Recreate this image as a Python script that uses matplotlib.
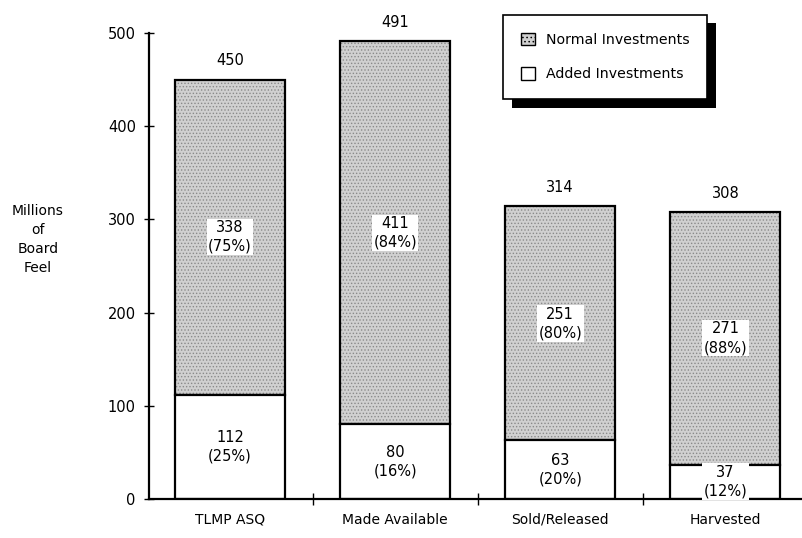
import numpy as np
import matplotlib.pyplot as plt

categories = ['TLMP ASQ', 'Made Available', 'Sold/Released', 'Harvested']
added = [112, 80, 63, 37]
normal = [338, 411, 251, 271]
totals = [450, 491, 314, 308]
added_pct = ['25%', '16%', '20%', '12%']
normal_pct = ['75%', '84%', '80%', '88%']

plt.rcParams['font.family'] = 'DejaVu Sans'
plt.rcParams['hatch.linewidth'] = 0.6

fig = plt.figure(figsize=(8.03, 5.38), dpi=100)
ax = fig.add_axes([0.1856, 0.0725, 0.8144, 0.8662])

x = np.arange(len(categories))
w = 0.667

# stippled fill for normal investments, then the outlines
ax.bar(x, normal, w, bottom=added, color='#d0d0d0', edgecolor='#8a8a8a',
       hatch='.....', linewidth=0)
ax.bar(x, normal, w, bottom=added, fill=False, edgecolor='black', linewidth=1.6)
ax.bar(x, added, w, color='white', edgecolor='black', linewidth=1.6)

for i in range(len(categories)):
    ax.text(x[i], added[i] + normal[i] / 2, f'{normal[i]}\n({normal_pct[i]})',
            ha='center', va='center', fontsize=10.5, linespacing=1.3,
            bbox=dict(facecolor='white', edgecolor='none', pad=1))
    ax.text(x[i], added[i] / 2, f'{added[i]}\n({added_pct[i]})',
            ha='center', va='center', fontsize=10.5, linespacing=1.3,
            bbox=dict(facecolor='white', edgecolor='none', pad=1))
    ax.text(x[i], totals[i] + 12, str(totals[i]), ha='center', va='bottom',
            fontsize=10.5)

ax.set_xlim(-0.49, 3.47)
ax.set_ylim(0, 500)
ax.set_yticks([0, 100, 200, 300, 400, 500])
ax.set_xticks(x)
ax.set_xticklabels(categories, fontsize=10)
ax.set_xticks([0.5, 1.5, 2.5], minor=True)
ax.tick_params(axis='x', which='major', length=0, pad=10)
ax.tick_params(axis='x', which='minor', length=8, direction='inout', width=1)
ax.tick_params(axis='y', length=7, direction='inout', width=1, labelsize=10.5, pad=6)
for s in ['top', 'right']:
    ax.spines[s].set_visible(False)
ax.spines['left'].set_linewidth(1.6)
ax.spines['bottom'].set_linewidth(1.6)

fig.text(0.047, 0.555, 'Millions\nof\nBoard\nFeel', ha='center', va='center',
         fontsize=10, linespacing=1.45)

h1 = plt.Rectangle((0, 0), 1, 1, facecolor='#d0d0d0', edgecolor='black', hatch='....')
h2 = plt.Rectangle((0, 0), 1, 1, facecolor='white', edgecolor='black')
leg = ax.legend([h1, h2], ['Normal Investments', 'Added Investments'],
                loc='upper left', bbox_to_anchor=(0.541, 1.039), borderaxespad=0,
                fontsize=10.2, frameon=True, fancybox=False, shadow=False,
                edgecolor='black', framealpha=1, handlelength=1.0, handleheight=1.0,
                borderpad=1.25, labelspacing=1.45, handletextpad=0.8)
leg.get_frame().set_linewidth(1.2)

# heavy drop shadow behind the legend box
fig.canvas.draw()
bb = leg.get_window_extent().transformed(fig.transFigure.inverted())
shadow = plt.Rectangle((bb.x0 + 0.011, bb.y0 - 0.016), bb.width, bb.height,
                       transform=fig.transFigure, facecolor='black',
                       edgecolor='none', zorder=4.9, clip_on=False)
ax.add_artist(shadow)

fig.savefig('out.png', dpi=100)
